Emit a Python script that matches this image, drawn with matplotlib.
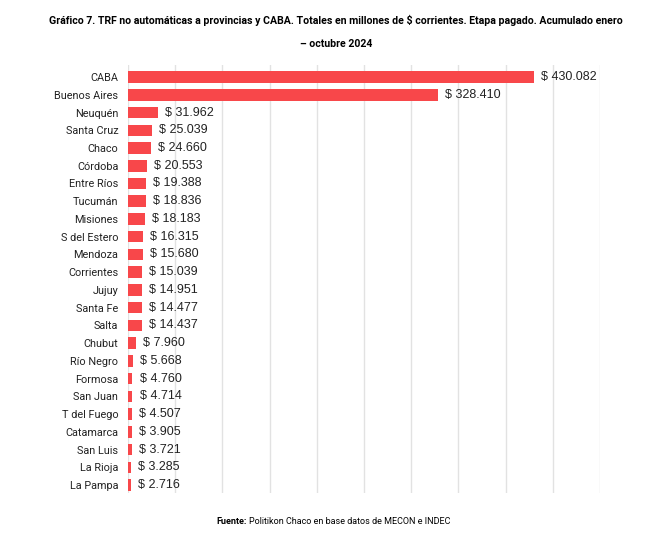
import matplotlib
matplotlib.use("Agg")
import matplotlib.pyplot as plt

provincias = ["CABA", "Buenos Aires", "Neuquén", "Santa Cruz", "Chaco", "Córdoba",
              "Entre Ríos", "Tucumán", "Misiones", "S del Estero", "Mendoza",
              "Corrientes", "Jujuy", "Santa Fe", "Salta", "Chubut", "Río Negro",
              "Formosa", "San Juan", "T del Fuego", "Catamarca", "San Luis",
              "La Rioja", "La Pampa"]
montos = [430082, 328410, 31962, 25039, 24660, 20553, 19388, 18836, 18183,
          16315, 15680, 15039, 14951, 14477, 14437, 7960, 5668, 4760, 4714,
          4507, 3905, 3721, 3285, 2716]

fuente_cond = ["Roboto", "DejaVu Sans"]
fuente_val = ["Liberation Sans", "DejaVu Sans"]

fig = plt.figure(figsize=(6.72, 5.56), dpi=100)
ax = fig.add_axes([128 / 672, 63 / 556, 472 / 672, 428 / 556])

pos = list(range(len(provincias)))
ax.barh(pos, montos, height=0.65, color="#f8474a", zorder=3)

for p, m in zip(pos, montos):
    texto = "$ " + f"{m:,}".replace(",", ".")
    ax.text(m + 7500, p, texto, va="center", ha="left", fontsize=9,
            family=fuente_val, color="#222222")

ax.set_xlim(0, 500000)
ax.set_xticks(range(0, 500001, 50000))
ax.set_ylim(23.45, -0.68)
ax.set_yticks(pos)
ax.set_yticklabels(provincias, family=fuente_cond, fontsize=7.8, color="#222222")
ax.tick_params(axis="x", length=0, labelbottom=False)
ax.tick_params(axis="y", length=0, pad=7)
ax.grid(axis="x", color="#e2e2e2", linewidth=1, zorder=0)
for s in ax.spines.values():
    s.set_visible(False)

fig.text(0.5, 1 - 20 / 556,
         "Gráfico 7. TRF no automáticas a provincias y CABA. Totales en millones de $ corrientes. Etapa pagado. Acumulado enero",
         ha="center", va="center", fontsize=7.6, fontweight="bold", family=fuente_cond)
fig.text(0.5, 1 - 44 / 556, "– octubre 2024",
         ha="center", va="center", fontsize=7.6, fontweight="bold", family=fuente_cond)

# texto de la fuente, con "Fuente:" en negrita pegado a la izquierda
fuente = fig.text(0.52, 1 - 522 / 556, "Politikon Chaco en base datos de MECON e INDEC",
                  ha="center", va="center", fontsize=6.5, family=fuente_cond)
r = fig.canvas.get_renderer()
bb = fuente.get_window_extent(renderer=r)
fig.text(bb.x0 / 672 - 0.003, 1 - 522 / 556, "Fuente:", ha="right", va="center",
         fontsize=6.5, fontweight="bold", family=fuente_cond)

fig.savefig("out.png", dpi=100, facecolor="white")
